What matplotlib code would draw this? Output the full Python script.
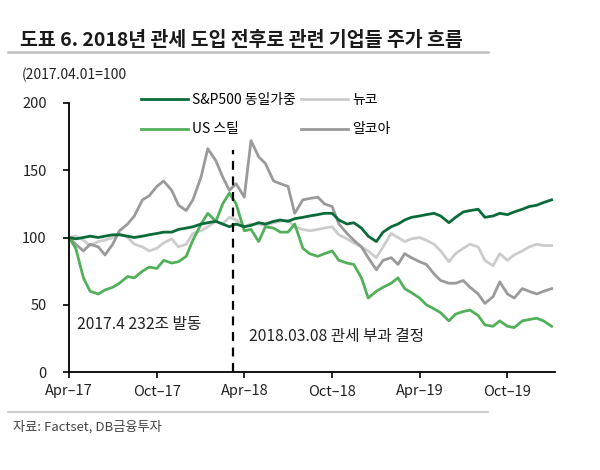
import numpy as np
import pandas as pd
import matplotlib
matplotlib.use("Agg")
import matplotlib.pyplot as plt
import matplotlib.dates as mdates

plt.rcParams['font.family'] = ['Noto Sans CJK KR', 'DejaVu Sans']

# semi-monthly readings, 2017-04-01 ~ 2020-01-01 (2017.04.01 = 100)
dates = pd.date_range("2017-04-01", periods=67, freq="SMS")

sp500 = [100, 99, 100, 101, 100, 101, 102, 102, 101, 100, 101, 102, 103, 104, 104, 106,
         107, 108, 110, 111, 112, 110, 108, 110, 108, 109, 111, 110, 112, 113, 112, 114,
         115, 116, 117, 118, 118, 113, 110, 111, 107, 101, 97, 104, 108, 110, 113, 115,
         116, 117, 118, 116, 111, 115, 119, 120, 121, 115, 116, 118, 117, 119, 121, 123,
         124, 126, 128]
nucor = [100, 101, 98, 94, 97, 98, 100, 103, 100, 95, 93, 90, 92, 96, 99, 93,
         95, 103, 105, 108, 112, 110, 115, 113, 108, 110, 110, 109, 111, 112, 113, 108,
         106, 105, 106, 107, 108, 102, 99, 96, 93, 90, 85, 93, 103, 100, 97, 99,
         100, 98, 95, 90, 82, 88, 92, 95, 93, 83, 79, 88, 83, 87, 90, 93,
         95, 94, 94]
ussteel = [100, 92, 70, 60, 58, 61, 63, 66, 71, 70, 75, 78, 77, 83, 81, 82,
           86, 98, 110, 118, 112, 125, 133, 125, 105, 106, 97, 108, 107, 104, 104, 110,
           92, 88, 86, 88, 90, 83, 81, 80, 70, 55, 60, 63, 66, 70, 62, 59,
           55, 50, 47, 44, 38, 43, 45, 46, 42, 35, 34, 38, 34, 33, 38, 39,
           40, 38, 34]
alcoa = [100, 95, 90, 95, 93, 87, 95, 105, 110, 116, 128, 131, 138, 142, 135, 124,
         120, 128, 145, 166, 157, 145, 135, 140, 130, 172, 160, 155, 142, 140, 138, 118,
         128, 129, 130, 125, 123, 110, 103, 98, 93, 85, 76, 83, 85, 80, 88, 85,
         82, 80, 73, 68, 66, 66, 68, 63, 58, 51, 56, 67, 58, 55, 62, 60,
         58, 60, 62]

labels = ["S&P500 동일가중", "US 스틸", "뉴코", "알코아"]
colors = ["#0b6b38", "#52b05a", "#cccccc", "#9a9a9a"]
series = [sp500, ussteel, nucor, alcoa]

xticks = pd.to_datetime(["2017-04-01", "2017-10-01", "2018-04-01",
                         "2018-10-01", "2019-04-01", "2019-10-01"])
xticklabels = ["Apr–17", "Oct–17", "Apr–18", "Oct–18", "Apr–19", "Oct–19"]
event_date = pd.Timestamp("2018-03-08")

W, H = 600, 470
fig = plt.figure(figsize=(6, 4.7), dpi=100)
ax = fig.add_axes([69 / W, 1 - 372 / H, (555 - 69) / W, (372 - 103) / H])

# draw order: light first, dark S&P on top
for i in [2, 3, 1, 0]:
    ax.plot(dates, series[i], color=colors[i], lw=2, label=labels[i])

ax.plot([event_date, event_date], [0, 165], color="black", lw=1.6, ls=(0, (4, 3)))

ax.set_xlim(pd.Timestamp("2017-04-01"), pd.Timestamp("2020-01-08"))
ax.set_ylim(0, 200)
ax.set_yticks([0, 50, 100, 150, 200])
ax.set_xticks(xticks)
ax.set_xticklabels(xticklabels)
ax.tick_params(axis="both", labelsize=10.5, length=4, width=1.2, color="black",
               labelcolor="#222222")
ax.tick_params(axis="y", pad=12)
ax.tick_params(axis="x", pad=5)
for s in ["top", "right"]:
    ax.spines[s].set_visible(False)
for s in ["left", "bottom"]:
    ax.spines[s].set_linewidth(1.3)

h, l = ax.get_legend_handles_labels()
order = [l.index(x) for x in labels]
ax.legend([h[k] for k in order], [l[k] for k in order], ncol=2, frameon=False,
          loc="upper left", bbox_to_anchor=(128 / W, 1 - 80 / H),
          bbox_transform=fig.transFigure, fontsize=10, handlelength=3.4,
          handletextpad=0.3, labelspacing=1.15, columnspacing=0.4)

ax.text(77 / W, 1 - 325 / H, "2017.4 232조 발동", transform=fig.transFigure,
        fontsize=11.3, va="center", color="#222222")
ax.text(249 / W, 1 - 336 / H, "2018.03.08 관세 부과 결정", transform=fig.transFigure,
        fontsize=11.3, va="center", color="#222222")

fig.text(20 / W, 1 - 40 / H, "도표 6. 2018년 관세 도입 전후로 관련 기업들 주가 흐름",
         fontsize=14, fontweight="bold", va="center", color="#1a1a1a")
fig.text(22 / W, 1 - 75 / H, "(2017.04.01=100", fontsize=10, va="center", color="#222222")
fig.text(13 / W, 1 - 427 / H, "자료: Factset, DB금융투자", fontsize=9.5, va="center",
         color="#444444")

fig.add_artist(plt.Line2D([8 / W, 488 / W], [1 - 52 / H, 1 - 52 / H],
                          color="#c0c0c0", lw=1.8))
fig.add_artist(plt.Line2D([8 / W, 488 / W], [1 - 412 / H, 1 - 412 / H],
                          color="#c0c0c0", lw=1.2))

fig.savefig("out.png", dpi=100)
